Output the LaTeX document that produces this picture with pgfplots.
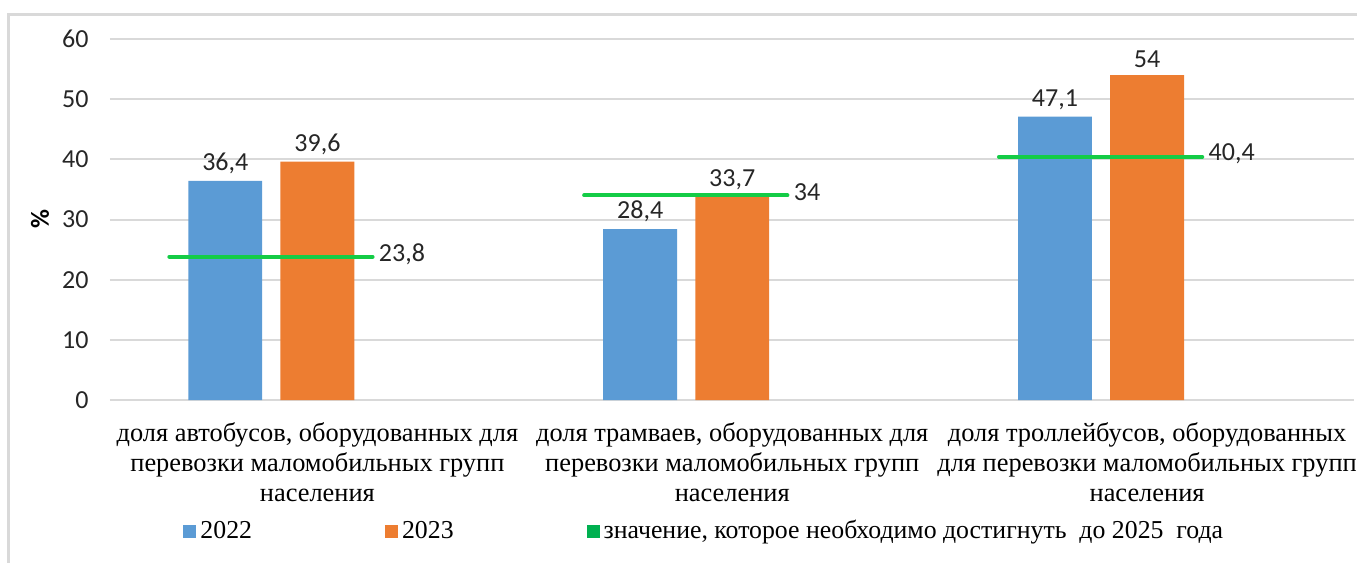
\documentclass[border=0pt]{standalone}
\usepackage{fontspec}
\setmainfont{Liberation Serif}
\newfontfamily\calfont{Carlito}
\usepackage{pgfplots}
\pgfplotsset{compat=1.18}
\definecolor{cblue}{HTML}{5B9BD5}
\definecolor{corange}{HTML}{ED7D31}
\definecolor{cgreen}{HTML}{14CC46}
\definecolor{lgreen}{HTML}{00B050}
\definecolor{gridc}{HTML}{D9D9D9}
\definecolor{framec}{HTML}{D9D9D9}
\definecolor{numc}{HTML}{262626}
\newcommand{\numfont}{\calfont\fontsize{13}{15}\selectfont}
\newcommand{\txtfont}{\fontsize{13.2}{15}\selectfont}
\newcommand{\legfont}{\fontsize{12.9}{15}\selectfont}
\pgfplotsset{
  sqlegend/.style={legend image code/.code={\fill[##1,draw=none] (0pt,-3.25pt) rectangle (6.5pt,3.25pt);}},
}
\begin{document}
\begin{tikzpicture}[x=1pt,y=1pt]
\useasboundingbox (-55,-81.5) rectangle (623.5,200);
\draw[framec, line width=1.5pt] (-50.5,-81.5) -- (-50.5,192.5) -- (623.5,192.5);
\begin{axis}[
  at={(0,0)}, anchor=south west,
  width=622.25pt, height=180.5pt, scale only axis,
  xmin=-0.5, xmax=2.5, ymin=0, ymax=60,
  clip=false,
  axis line style={draw=none},
  tick style={draw=none},
  ytick={0,10,...,60},
  ymajorgrids, grid style={gridc, line width=1pt},
  xtick={0,1,2},
  xticklabels={{доля автобусов, оборудованных для\\перевозки маломобильных групп\\населения},
               {доля трамваев, оборудованных для\\перевозки маломобильных групп\\населения},
               {доля троллейбусов, оборудованных\\для перевозки маломобильных групп\\населения}},
  xticklabel style={align=center, anchor=north, inner sep=0pt, yshift=-11pt, font=\txtfont},
  yticklabel style={anchor=east, inner sep=0pt, xshift=-10.5pt, font=\numfont, text=numc},
  /pgf/number format/assume math mode=true,
  /pgf/number format/use comma,
  ylabel={\%},
  every axis y label/.style={at={(axis description cs:-0.05625,0.5)}, rotate=90, anchor=center, font=\calfont\bfseries\fontsize{13}{15}\selectfont},
  legend columns=3,
  legend style={at={(axis description cs:0.0587,-0.363)}, anchor=west, draw=none, fill=none, inner sep=0pt,
    font=\legfont,
    nodes={inner sep=0pt},
    /tikz/every odd column/.append style={column sep=2pt},
    /tikz/every even column/.append style={column sep=66.5pt}},
  every node near coord/.append style={font=\numfont, text=numc},
]
\addplot[ybar, bar width=0.178, bar shift=0pt, fill=cblue, draw=none, nodes near coords, sqlegend]
  coordinates {(-0.222,36.4) (0.778,28.4) (1.778,47.1)};
\addlegendentry{2022}
\addplot[ybar, bar width=0.178, bar shift=0pt, fill=corange, draw=none, nodes near coords, sqlegend]
  coordinates {(0,39.6) (1,33.7) (2,54)};
\addlegendentry{2023}
\addplot[cgreen, line width=2pt, line cap=round, forget plot] coordinates {(-0.357,23.8) (0.133,23.8)};
\addplot[cgreen, line width=2pt, line cap=round, forget plot] coordinates {(0.643,34) (1.133,34)};
\addplot[cgreen, line width=2pt, line cap=round, forget plot] coordinates {(1.643,40.4) (2.133,40.4)};
\addplot[draw=none, mark=none, forget plot, nodes near coords, point meta=y,
  every node near coord/.style={anchor=west, font=\numfont, text=numc, inner sep=0pt, xshift=3pt, yshift=1.5pt}]
  coordinates {(0.133,23.8) (1.133,34) (2.133,40.4)};
\addlegendimage{sqlegend, fill=lgreen}
\addlegendentry{значение, которое необходимо достигнуть\hspace{0.5em}до 2025\hspace{0.5em}года}
\end{axis}
\end{tikzpicture}
\end{document}
